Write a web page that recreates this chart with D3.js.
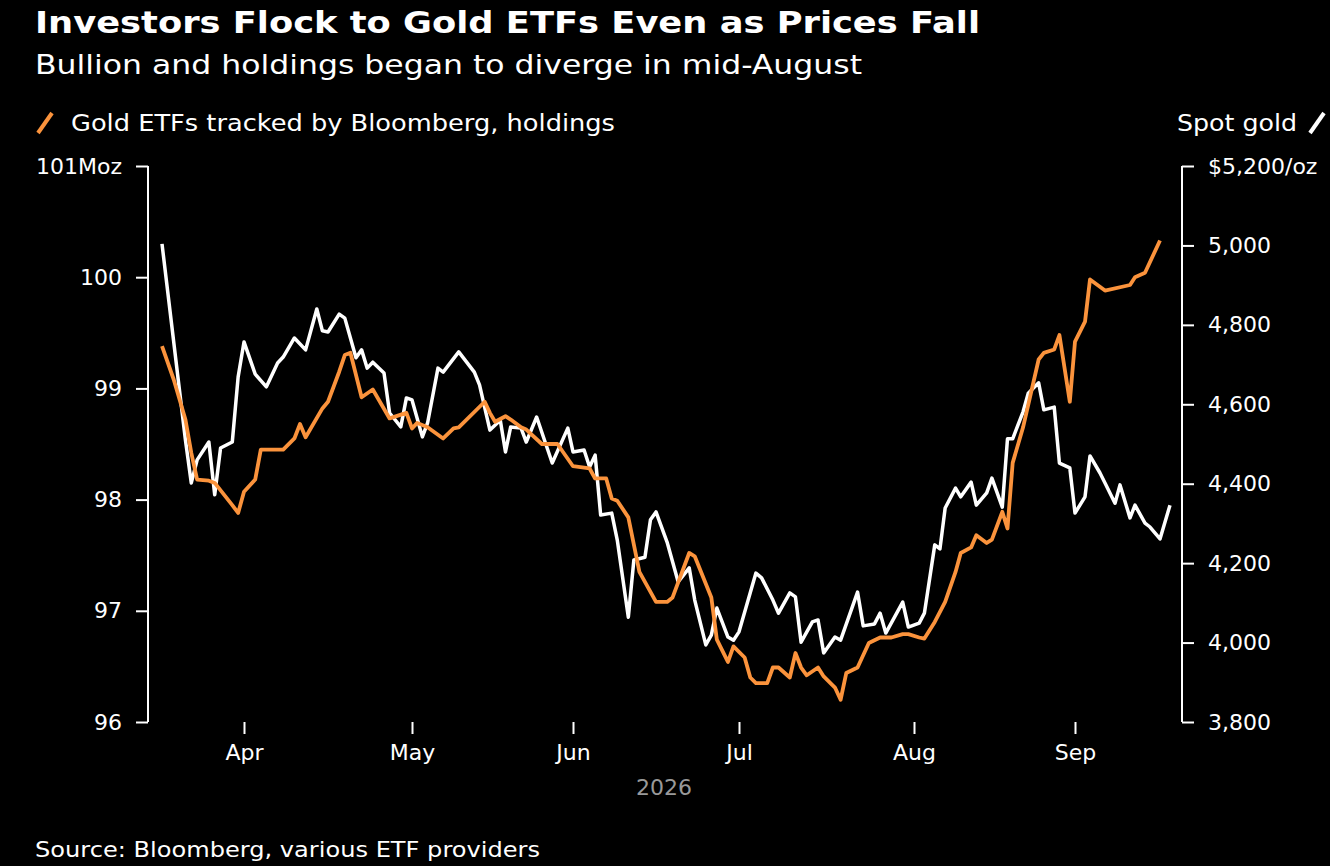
<!DOCTYPE html>
<html><head><meta charset="utf-8">
<script src="https://cdn.jsdelivr.net/npm/d3@7"></script>
<style>body{margin:0;background:#000}svg{display:block}text{font-family:"DejaVu Sans",sans-serif}</style>
</head><body><svg id="c" width="1330" height="866"></svg>
<script>
const goldDates=["03-18","03-22","03-23","03-24","03-26","03-27","03-28","03-30","03-31","04-01","04-03","04-05","04-07","04-08","04-10","04-12","04-14","04-15","04-16","04-18","04-19","04-21","04-22","04-23","04-24","04-26","04-27","04-29","04-30","05-01","05-03","05-04","05-06","05-07","05-10","05-13","05-14","05-16","05-18","05-19","05-20","05-22","05-23","05-25","05-28","05-31","06-01","06-03","06-04","06-05","06-06","06-08","06-09","06-11","06-12","06-14","06-15","06-16","06-18","06-20","06-22","06-23","06-25","06-26","06-27","06-29","06-30","07-01","07-04","07-05","07-07","07-08","07-10","07-11","07-12","07-14","07-15","07-16","07-18","07-19","07-22","07-23","07-25","07-26","07-27","07-30","07-31","08-02","08-03","08-05","08-06","08-07","08-09","08-10","08-12","08-13","08-15","08-16","08-18","08-19","08-20","08-22","08-23","08-25","08-26","08-28","08-29","08-31","09-01","09-03","09-04","09-06","09-07","09-09","09-10","09-12","09-13","09-15","09-16","09-18","09-20"];
const goldValues=[5004,4510,4402,4460,4505,4372,4490,4505,4669,4757,4676,4644,4704,4719,4767,4737,4840,4785,4782,4827,4817,4717,4737,4691,4706,4679,4578,4543,4616,4611,4518,4553,4691,4681,4732,4681,4649,4535,4560,4480,4543,4540,4505,4568,4452,4540,4480,4485,4442,4472,4321,4326,4258,4064,4208,4215,4309,4329,4253,4153,4188,4107,3994,4019,4087,4014,4006,4027,4175,4163,4107,4074,4125,4115,4001,4052,4057,3974,4014,4006,4127,4042,4047,4074,4024,4102,4039,4049,4074,4246,4236,4339,4389,4367,4404,4346,4377,4414,4341,4513,4513,4581,4628,4654,4586,4593,4452,4440,4326,4367,4470,4427,4402,4351,4397,4314,4346,4301,4291,4261,4346];
const etfDates=["03-18","03-20","03-22","03-23","03-24","03-26","03-27","03-30","03-31","04-01","04-03","04-04","04-08","04-10","04-11","04-12","04-15","04-16","04-18","04-19","04-20","04-22","04-24","04-27","04-30","05-01","05-02","05-04","05-07","05-09","05-10","05-15","05-16","05-17","05-19","05-20","05-22","05-23","05-26","05-29","06-01","06-04","06-05","06-07","06-08","06-09","06-11","06-13","06-16","06-18","06-19","06-22","06-23","06-26","06-27","06-29","06-30","07-02","07-03","07-04","07-06","07-07","07-08","07-10","07-11","07-12","07-13","07-15","07-16","07-18","07-19","07-20","07-22","07-24","07-26","07-28","07-30","07-31","08-02","08-03","08-05","08-07","08-09","08-10","08-12","08-13","08-15","08-16","08-18","08-19","08-20","08-22","08-25","08-26","08-28","08-29","08-31","09-01","09-03","09-04","09-07","09-12","09-13","09-15","09-18"];
const etfValues=[99.38,99.08,98.72,98.42,98.18,98.17,98.15,97.95,97.88,98.07,98.18,98.45,98.45,98.55,98.68,98.56,98.82,98.88,99.15,99.3,99.32,98.92,98.99,98.73,98.78,98.64,98.69,98.65,98.55,98.64,98.65,98.88,98.78,98.70,98.75,98.72,98.65,98.63,98.50,98.50,98.30,98.28,98.19,98.19,98.01,97.99,97.84,97.35,97.08,97.08,97.12,97.52,97.49,97.12,96.74,96.54,96.68,96.58,96.40,96.35,96.35,96.49,96.49,96.40,96.62,96.49,96.42,96.49,96.41,96.31,96.20,96.44,96.49,96.71,96.76,96.76,96.79,96.79,96.76,96.75,96.90,97.08,97.35,97.52,97.57,97.68,97.61,97.64,97.89,97.74,98.33,98.65,99.26,99.32,99.35,99.48,98.88,99.42,99.60,99.98,99.88,99.93,100.00,100.04,100.33];
const leftTicks=[96,97,98,99,100,101];
const rightTicks=[3800,4000,4200,4400,4600,4800,5000,5200];
const monthTicks=["04-01","05-01","06-01","07-01","08-01","09-01"];
const monthLabels=["Apr","May","Jun","Jul","Aug","Sep"];

const P=s=>new Date("2026-"+s+"T00:00:00");
const svg=d3.select("#c");
svg.append("rect").attr("width",1330).attr("height",866).attr("fill","#000");
const x=d3.scaleTime().domain(["03-18","04-01","05-01","06-01","07-01","08-01","09-01","09-18"].map(P))
  .range([162,244,412,573,739,914,1075,1160]);
const yL=d3.scaleLinear().domain([96,101]).range([722,166]);
const yR=d3.scaleLinear().domain([3800,5200]).range([722,166]);
const ORANGE="#fb933c";
const FT="DejaVu Sans";

function txt(xp,yp,s,size,len,opts={}){
  const t=svg.append("text").attr("x",xp).attr("y",yp).attr("fill",opts.fill||"#fff").attr("font-size",size).text(s);
  if(opts.bold)t.attr("font-weight","bold");
  if(opts.anchor)t.attr("text-anchor",opts.anchor);
  if(len)t.attr("textLength",len).attr("lengthAdjust","spacingAndGlyphs");
  return t;
}
txt(35,33,"Investors Flock to Gold ETFs Even as Prices Fall",30,945,{bold:true});
txt(35,74,"Bullion and holdings began to diverge in mid-August",27,827);
svg.append("line").attr("x1",38).attr("y1",133).attr("x2",52).attr("y2",113).attr("stroke",ORANGE).attr("stroke-width",4);
txt(71,131,"Gold ETFs tracked by Bloomberg, holdings",23,544);
txt(1297,131,"Spot gold",23,120,{anchor:"end"});
svg.append("line").attr("x1",1310).attr("y1",133).attr("x2",1324).attr("y2",113).attr("stroke","#fff").attr("stroke-width",4);

const la=svg.append("g").attr("transform","translate(148,0)").call(d3.axisLeft(yL).tickValues(leftTicks).tickSize(12).tickFormat(d=>d===101?"101Moz":d));
la.select(".domain").attr("stroke","#fff").attr("stroke-width",2).attr("d","M0,166V722");
la.selectAll(".tick line").attr("stroke","#fff").attr("stroke-width",2);
la.selectAll(".tick text").attr("fill","#fff").attr("font-size",22).attr("font-family",FT).attr("x",-26);
la.selectAll(".tick text").filter(d=>d===101).attr("text-anchor","start").attr("x",-112);
const ra=svg.append("g").attr("transform","translate(1182,0)").call(d3.axisRight(yR).tickValues(rightTicks).tickSize(12).tickFormat(d=>d===5200?"$5,200/oz":d3.format(",")(d)));
ra.select(".domain").attr("stroke","#fff").attr("stroke-width",2).attr("d","M0,166V722");
ra.selectAll(".tick line").attr("stroke","#fff").attr("stroke-width",2);
ra.selectAll(".tick text").attr("fill","#fff").attr("font-size",22).attr("font-family",FT).attr("x",26);
const xa=svg.append("g").attr("transform","translate(0,722)").call(d3.axisBottom(x).tickValues(monthTicks.map(P)).tickSize(12).tickFormat((d,i)=>monthLabels[i]));
xa.select(".domain").remove();
xa.selectAll(".tick line").attr("stroke","#fff").attr("stroke-width",2);
xa.selectAll(".tick text").attr("fill","#fff").attr("font-size",22).attr("font-family",FT).attr("y",22);
txt(664,795,"2026",22,null,{fill:"#999",anchor:"middle"});
txt(35,857,"Source: Bloomberg, various ETF providers",22,505);

svg.append("path").datum(goldDates.map((d,i)=>[P(d),goldValues[i]]))
  .attr("fill","none").attr("stroke","#fff").attr("stroke-width",3.5).attr("stroke-linejoin","round")
  .attr("d",d3.line().x(d=>x(d[0])).y(d=>yR(d[1])));
svg.append("path").datum(etfDates.map((d,i)=>[P(d),etfValues[i]]))
  .attr("fill","none").attr("stroke",ORANGE).attr("stroke-width",3.8).attr("stroke-linejoin","round")
  .attr("d",d3.line().x(d=>x(d[0])).y(d=>yL(d[1])));
</script></body></html>
